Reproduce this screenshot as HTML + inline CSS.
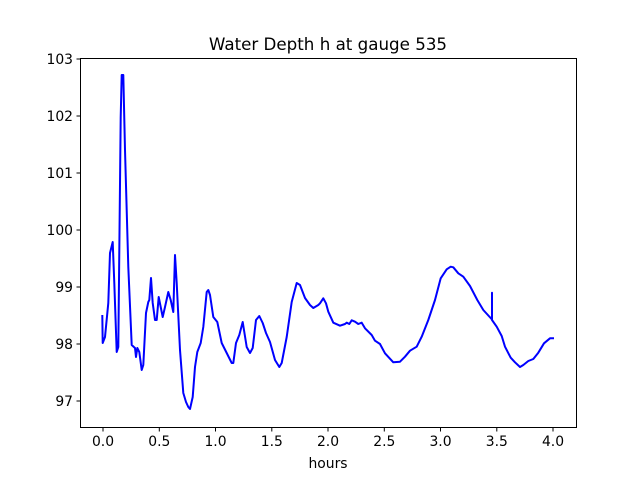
<!DOCTYPE html>
<html><head><style>body{margin:0;background:#fff}svg{display:block}text{font-family:"DejaVu Sans","Liberation Sans",sans-serif;fill:#000}</style></head>
<body>
<svg width="640" height="480" viewBox="0 0 640 480">
<rect width="640" height="480" fill="#fff"/>
<text x="328" y="50" font-size="16.7" text-anchor="middle">Water Depth h at gauge 535</text>
<polyline fill="none" stroke="#0000ff" stroke-width="2" stroke-linejoin="round" points="
102.3,315 102.7,343 105,337 108.3,303 110,253 112.7,242 114.3,283 116.7,352 118.3,347 120.7,117 121.7,75 123.3,75 125,150 128.3,267 131.7,345 135,348 136,357 137.3,348 139.3,352 141.7,370 143.3,365 146,313 148.3,302 149.3,300 151,278 152.7,303 155,320 156.7,320 158.7,297 160.7,307 162.7,317 165,307 168.3,292 170.7,300 173.3,312 175,255 176.7,283 180,350 183.3,393 186,402 188.3,407 190,409 192.7,397 195,367 197.3,352 200.7,343 203.3,327 206.7,292 208.3,290 210,295 213.3,317 217.3,322 221.7,343 226.7,353 231.7,363 233.3,363 236,343 239.3,335 242.7,322 246.7,347 250,353 252.7,348 256,320 259.3,316 262.7,323 266,333 270,342 275,360 279.3,367 281.7,363 286.7,337 291.7,302 296.7,283 300,285 305,298 310,305 313.3,308 318.3,305 320,303.3 323.3,298.3 326,303.3 328.3,311.7 333.3,322.7 340,325.7 345,324 346.7,322.7 349.3,324 351.7,320.3 355,321.7 358.3,324 361.7,322.7 365,328.3 371.7,335 375,340.7 380,344 385,353.3 393.3,362.3 400,361.7 405,356.7 410,350.7 416.7,346.7 421.7,336.7 428.3,320 435,300 440.7,278.3 446.7,269.3 450.7,266.7 453.3,267.3 458.3,273.3 463.3,276.7 470,286 477.3,300 483.3,310 492,319.5 492,292.7 492,320 496.7,326.7 501.7,336 505,346.7 510.7,357.7 515,362.3 520,367 523.3,365 528.3,361 533.3,359 538.3,352.7 544,343.3 550,338.3 554,338.3"/>
<rect x="80.5" y="58.5" width="496" height="369" fill="none" stroke="#000" stroke-width="1"/>
<g stroke="#000" stroke-width="1">
<line x1="103" y1="428" x2="103" y2="431.5"/><line x1="159.3" y1="428" x2="159.3" y2="431.5"/><line x1="215.5" y1="428" x2="215.5" y2="431.5"/><line x1="271.8" y1="428" x2="271.8" y2="431.5"/><line x1="328" y1="428" x2="328" y2="431.5"/><line x1="384.3" y1="428" x2="384.3" y2="431.5"/><line x1="440.5" y1="428" x2="440.5" y2="431.5"/><line x1="496.8" y1="428" x2="496.8" y2="431.5"/><line x1="553" y1="428" x2="553" y2="431.5"/>
<line x1="76.5" y1="401" x2="80" y2="401"/><line x1="76.5" y1="344" x2="80" y2="344"/><line x1="76.5" y1="287" x2="80" y2="287"/><line x1="76.5" y1="230" x2="80" y2="230"/><line x1="76.5" y1="173" x2="80" y2="173"/><line x1="76.5" y1="116" x2="80" y2="116"/><line x1="76.5" y1="59" x2="80" y2="59"/>
</g>
<g font-size="13.9" text-anchor="middle">
<text x="103" y="446">0.0</text><text x="159.3" y="446">0.5</text><text x="215.5" y="446">1.0</text><text x="271.8" y="446">1.5</text><text x="328" y="446">2.0</text><text x="384.3" y="446">2.5</text><text x="440.5" y="446">3.0</text><text x="496.8" y="446">3.5</text><text x="553" y="446">4.0</text>
<text x="328" y="468">hours</text>
</g>
<g font-size="13.9" text-anchor="end">
<text x="73" y="406">97</text><text x="73" y="349">98</text><text x="73" y="292">99</text><text x="73" y="235">100</text><text x="73" y="178">101</text><text x="73" y="121">102</text><text x="73" y="64">103</text>
</g>
</svg>
</body></html>
